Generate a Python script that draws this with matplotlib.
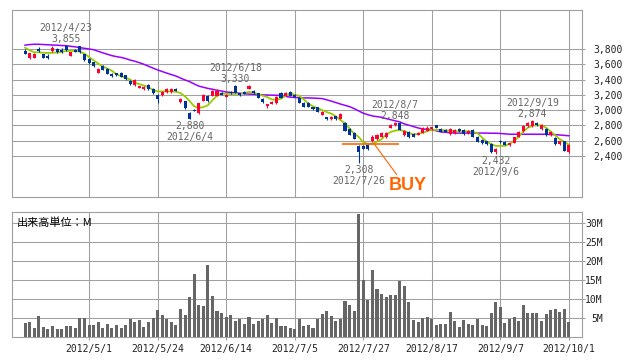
import numpy as np
import pandas as pd
import matplotlib
matplotlib.use("Agg")
import matplotlib.pyplot as plt

# trading calendar (Tokyo, 2012/4/10 - 2012/10/1)
holidays = ["2012-04-30", "2012-05-03", "2012-05-04", "2012-07-16", "2012-09-17"]
dates = pd.bdate_range("2012-04-10", "2012-10-01", freq="C", holidays=holidays)

opens = [3778, 3686, 3686, 3804, 3731, 3712, 3774, 3800, 3791, 3843,
         3712, 3791, 3835, 3731, 3669, 3626, 3486, 3578, 3539, 3473,
         3482, 3490, 3456, 3386, 3326, 3290, 3273, 3334, 3281, 3203,
         3195, 3238, 3238, 3273, 3107, 3116, 2960, 3003, 2968, 3125,
         3186, 3186, 3186, 3229, 3177, 3238, 3320, 3221, 3238, 3281,
         3255, 3221, 3151, 3055, 3081, 3090, 3229, 3186, 3238, 3203,
         3160, 3099, 3099, 3038, 3038, 2942, 2907, 2881, 2924, 2889,
         2837, 2750, 2706, 2532, 2532, 2541, 2594, 2620, 2654, 2646,
         2768, 2803, 2837, 2672, 2715, 2689, 2680, 2706, 2732, 2750,
         2803, 2750, 2741, 2689, 2698, 2750, 2741, 2698, 2741, 2654,
         2611, 2593, 2558, 2454, 2592, 2584, 2541, 2576, 2654, 2724,
         2794, 2794, 2829, 2750, 2750, 2672, 2637, 2558, 2593, 2454]
closes = [3739, 3744, 3739, 3778, 3686, 3686, 3817, 3765, 3757, 3783,
          3757, 3765, 3757, 3652, 3617, 3574, 3543, 3530, 3477, 3443,
          3456, 3438, 3404, 3343, 3395, 3316, 3307, 3273, 3221, 3151,
          3238, 3281, 3281, 3255, 3151, 3029, 2889, 2994, 3090, 3203,
          3116, 3255, 3255, 3203, 3203, 3221, 3229, 3195, 3212, 3322,
          3221, 3160, 3107, 3081, 3107, 3168, 3160, 3229, 3186, 3177,
          3099, 3046, 3042, 3012, 2977, 2977, 2881, 2916, 2881, 2950,
          2732, 2680, 2628, 2454, 2497, 2489, 2654, 2672, 2706, 2706,
          2811, 2837, 2741, 2732, 2646, 2654, 2706, 2767, 2767, 2776,
          2767, 2715, 2715, 2750, 2741, 2724, 2689, 2732, 2654, 2585,
          2567, 2558, 2454, 2497, 2588, 2549, 2567, 2646, 2715, 2794,
          2837, 2863, 2803, 2811, 2672, 2715, 2558, 2593, 2471, 2550]
highs = [3795, 3750, 3745, 3826, 3740, 3731, 3835, 3815, 3810, 3855,
         3765, 3800, 3840, 3740, 3680, 3635, 3555, 3585, 3545, 3480,
         3490, 3495, 3465, 3395, 3405, 3320, 3315, 3340, 3290, 3210,
         3245, 3290, 3290, 3285, 3160, 3125, 2970, 3010, 3100, 3210,
         3195, 3265, 3275, 3240, 3215, 3245, 3330, 3230, 3250, 3328,
         3265, 3230, 3160, 3085, 3115, 3180, 3235, 3240, 3245, 3210,
         3170, 3105, 3105, 3045, 3045, 2985, 2915, 2925, 2930, 2960,
         2845, 2760, 2715, 2545, 2550, 2560, 2680, 2690, 2720, 2715,
         2825, 2848, 2845, 2740, 2725, 2700, 2712, 2780, 2790, 2785,
         2810, 2760, 2750, 2760, 2750, 2760, 2750, 2740, 2750, 2660,
         2620, 2600, 2565, 2505, 2610, 2590, 2575, 2655, 2725, 2800,
         2845, 2874, 2840, 2820, 2760, 2725, 2645, 2600, 2600, 2560]
lows = [3730, 3665, 3680, 3765, 3680, 3673, 3757, 3750, 3745, 3775,
        3705, 3760, 3750, 3645, 3610, 3565, 3480, 3520, 3470, 3435,
        3450, 3430, 3395, 3335, 3315, 3285, 3265, 3265, 3215, 3090,
        3190, 3230, 3230, 3250, 3100, 3020, 2880, 2990, 2950, 3115,
        3110, 3180, 3180, 3195, 3170, 3215, 3225, 3190, 3205, 3275,
        3215, 3155, 3100, 3029, 3075, 3085, 3155, 3180, 3180, 3170,
        3095, 3040, 3035, 3005, 2970, 2935, 2875, 2875, 2875, 2880,
        2725, 2670, 2620, 2308, 2490, 2480, 2585, 2610, 2645, 2640,
        2760, 2795, 2735, 2665, 2640, 2645, 2675, 2700, 2725, 2745,
        2760, 2710, 2710, 2680, 2690, 2715, 2680, 2690, 2645, 2580,
        2560, 2550, 2445, 2432, 2565, 2540, 2535, 2570, 2645, 2715,
        2785, 2785, 2795, 2745, 2665, 2665, 2550, 2550, 2465, 2445]
volume_m = [3.7, 3.9, 2.5, 5.4, 2.7, 2.2, 2.9, 2.2, 2.2, 2.9,
            2.9, 2.5, 5.1, 5.1, 3.2, 3.2, 3.9, 2.5, 3.4, 2.4,
            3.2, 2.4, 3.2, 4.7, 3.9, 4.5, 2.7, 3.9, 5.0, 7.1,
            5.8, 4.8, 3.9, 3.2, 7.4, 5.8, 10.5, 16.6, 8.4, 8.2,
            18.9, 10.8, 6.8, 6.3, 5.3, 5.8, 4.2, 4.7, 3.4, 5.3,
            3.4, 4.2, 4.7, 5.8, 3.7, 5.0, 2.9, 2.9, 2.4, 2.1,
            4.8, 2.9, 3.2, 2.4, 4.8, 6.1, 6.8, 5.5, 4.2, 4.8,
            9.5, 8.4, 6.8, 32.4, 15.0, 9.7, 17.6, 12.6, 11.3, 10.5,
            11.1, 11.1, 14.7, 13.4, 9.2, 4.5, 3.9, 5.0, 5.3, 4.8,
            3.2, 3.4, 3.4, 6.6, 4.2, 2.6, 4.5, 3.4, 3.2, 4.8,
            3.2, 2.9, 6.3, 9.2, 7.9, 3.7, 4.8, 5.3, 4.2, 8.4,
            6.3, 6.3, 6.3, 4.2, 6.1, 7.1, 7.4, 6.6, 7.4, 3.9]
ma_short = [3817, 3783, 3757, 3757, 3750, 3748, 3750, 3755, 3760, 3774,
            3774, 3774, 3765, 3739, 3695, 3652, 3610, 3570, 3545, 3515,
            3470, 3445, 3425, 3400, 3360, 3340, 3322, 3300, 3265, 3245,
            3245, 3245, 3245, 3240, 3225, 3180, 3120, 3050, 3030, 3040,
            3064, 3130, 3190, 3221, 3212, 3212, 3212, 3212, 3225, 3238,
            3230, 3210, 3190, 3170, 3140, 3135, 3150, 3190, 3225, 3200,
            3186, 3140, 3085, 3050, 3025, 3000, 2975, 2955, 2920, 2870,
            2829, 2760, 2690, 2650, 2580, 2558, 2558, 2590, 2620, 2680,
            2715, 2732, 2741, 2725, 2700, 2682, 2689, 2705, 2724, 2741,
            2741, 2741, 2735, 2730, 2728, 2718, 2724, 2724, 2715, 2698,
            2640, 2590, 2555, 2532, 2532, 2532, 2560, 2600, 2650, 2720,
            2770, 2795, 2803, 2800, 2770, 2720, 2670, 2620, 2584, 2545]
ma_long = [3850, 3858, 3862, 3862, 3858, 3855, 3852, 3850, 3845, 3843,
           3835, 3828, 3817, 3809, 3800, 3791, 3770, 3750, 3731, 3713,
           3700, 3690, 3675, 3655, 3640, 3621, 3600, 3575, 3550, 3526,
           3505, 3485, 3465, 3447, 3420, 3395, 3373, 3343, 3315, 3299,
           3285, 3273, 3260, 3250, 3238, 3232, 3228, 3221, 3215, 3210,
           3207, 3203, 3200, 3198, 3196, 3195, 3190, 3180, 3170, 3165,
           3162, 3160, 3160, 3158, 3155, 3151, 3135, 3118, 3099, 3080,
           3063, 3046, 3020, 2990, 2960, 2940, 2924, 2915, 2907, 2889,
           2875, 2860, 2846, 2820, 2803, 2785, 2767, 2755, 2748, 2741,
           2730, 2715, 2710, 2705, 2700, 2700, 2700, 2700, 2700, 2700,
           2700, 2700, 2698, 2698, 2695, 2690, 2685, 2685, 2685, 2685,
           2685, 2685, 2685, 2685, 2685, 2680, 2680, 2675, 2670, 2665]

tick_dates = ["2012-05-01", "2012-05-24", "2012-06-14", "2012-07-05",
              "2012-07-27", "2012-08-17", "2012-09-07", "2012-10-01"]
price_ticks = [2400, 2600, 2800, 3000, 3200, 3400, 3600, 3800]
vol_ticks = [5, 10, 15, 20, 25, 30]
peak_dates = ["2012-04-23", "2012-06-18", "2012-08-07", "2012-09-19"]
trough_dates = ["2012-06-04", "2012-07-26", "2012-09-06"]
buy_date = "2012-07-27"
buy_price = 2558

RED = "#ff0033"
BLUE = "#003399"
GRID = "#a0a0a0"
MONO = "DejaVu Sans Mono"

x = np.arange(len(dates))
o = np.array(opens)
c = np.array(closes)
up = c >= o
colors = np.where(up, RED, BLUE)


def day(s):
    return dates.get_loc(pd.Timestamp(s))


def fmt_date(d):
    return f"{d.year}/{d.month}/{d.day}"


fig = plt.figure(figsize=(6.38, 3.62), dpi=100, facecolor="white")
ax = fig.add_axes([12 / 638, 165 / 362, 570 / 638, 187 / 362])
axv = fig.add_axes([12 / 638, 25 / 362, 570 / 638, 125 / 362])

xlim = (-2.85, 121.85)
tick_pos = [day(d) for d in tick_dates]

for a in (ax, axv):
    a.set_xlim(*xlim)
    a.set_axisbelow(True)
    for s in a.spines.values():
        s.set_color(GRID)
        s.set_linewidth(0.8)
    a.grid(True, color=GRID, lw=0.75)
    a.set_xticks(tick_pos)
    a.yaxis.tick_right()

# --- price panel ---
ax.set_ylim(1864, 4310)
ax.plot(x, ma_long, color="#9900ff", lw=1.1, zorder=2)
ax.plot(x, ma_short, color="#99cc00", lw=1.3, zorder=2)
ax.vlines(x, lows, highs, colors=colors, lw=0.8, zorder=3)
body = np.maximum(np.abs(c - o), 8)
ax.bar(x, body, bottom=np.minimum(o, c), width=0.66, color=colors, zorder=4)

ax.set_xticklabels([])
ax.tick_params(axis="x", length=0)
ax.set_yticks(price_ticks)
ax.set_yticklabels([f"{v:,}" for v in price_ticks], family=MONO)
ax.tick_params(axis="y", length=2, color=GRID, pad=6, labelsize=7, labelcolor="#222222")

for d in peak_dates:
    i = day(d)
    ax.annotate(f"{highs[i]:,}", (i, highs[i]), xytext=(0, 6), textcoords="offset pixels",
                ha="center", va="center", fontsize=7, family=MONO, color="#666666")
    ax.annotate(fmt_date(dates[i]), (i, highs[i]), xytext=(0, 17), textcoords="offset pixels",
                ha="center", va="center", fontsize=7, family=MONO, color="#666666")
for d in trough_dates:
    i = day(d)
    ax.annotate(f"{lows[i]:,}", (i, lows[i]), xytext=(0, -7), textcoords="offset pixels",
                ha="center", va="center", fontsize=7, family=MONO, color="#666666")
    ax.annotate(fmt_date(dates[i]), (i, lows[i]), xytext=(0, -18), textcoords="offset pixels",
                ha="center", va="center", fontsize=7, family=MONO, color="#666666")

# buy signal
b = day(buy_date)
ax.hlines(buy_price, b - 4.6, b + 7.8, color="#ff6600", lw=1.2, zorder=5)
ax.annotate("BUY", (b + 2.4, buy_price), xytext=(34, -42), textcoords="offset pixels",
            ha="center", va="center", fontsize=13, fontweight="bold",
            family="Liberation Sans", color="#ff6600",
            arrowprops=dict(arrowstyle="-", color="#ff6600", lw=0.8,
                            shrinkA=0, shrinkB=0, relpos=(0.25, 1.0)))

# --- volume panel ---
axv.set_ylim(0, 32.9)
axv.bar(x, volume_m, width=0.66, color="#666666", zorder=3)
axv.set_xticklabels([fmt_date(dates[i]) for i in tick_pos], family=MONO)
axv.tick_params(axis="x", length=2, color=GRID, pad=3, labelsize=7, labelcolor="#222222")
axv.set_yticks(vol_ticks)
axv.set_yticklabels([f"{v}M" for v in vol_ticks], family=MONO)
axv.tick_params(axis="y", length=2, color=GRID, pad=13, labelsize=7, labelcolor="#222222")
for lab in axv.get_yticklabels():
    lab.set_horizontalalignment("right")
axv.text(0.009, 0.914, "出来高単位：M", transform=axv.transAxes, ha="left", va="center",
         fontsize=8, family=["Noto Sans CJK JP", "DejaVu Sans"], color="black")

fig.savefig("out.png", dpi=100, facecolor="white")
